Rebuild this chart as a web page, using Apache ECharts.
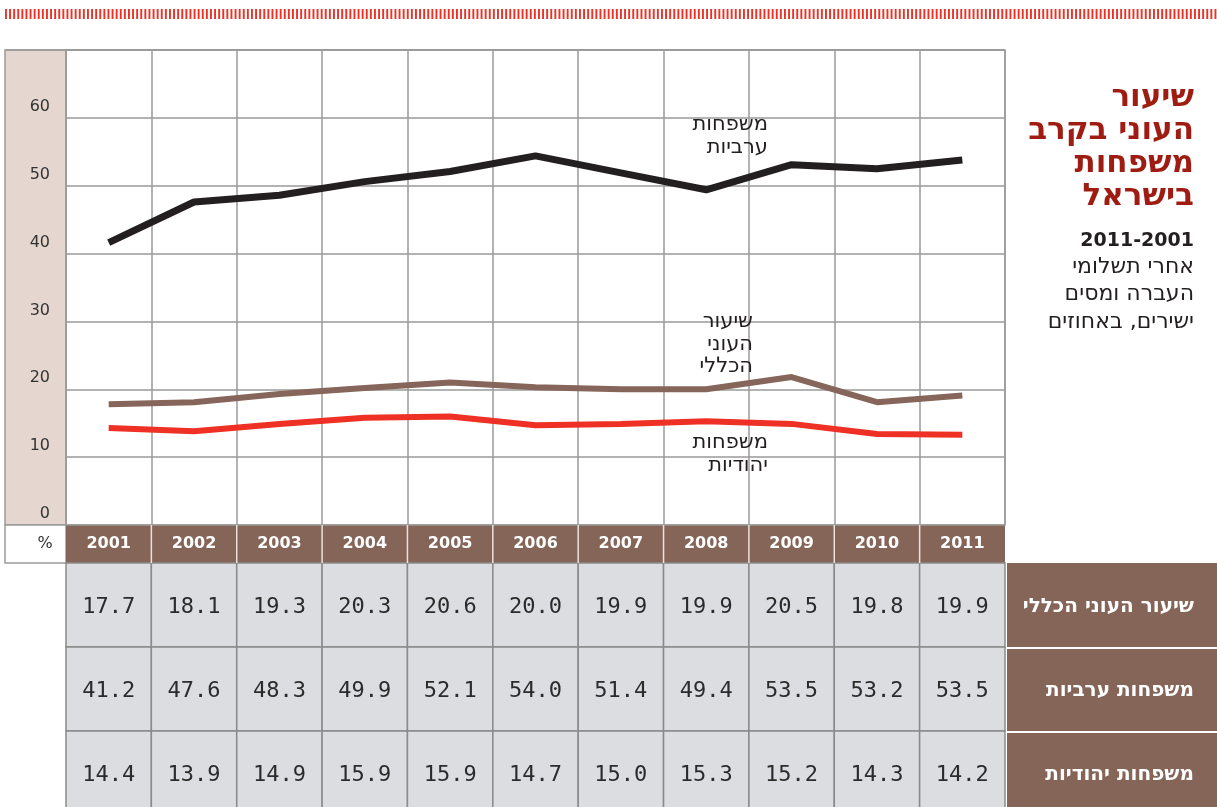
<!DOCTYPE html>
<html>
<head>
<meta charset="utf-8" />
<title>שיעור העוני בקרב משפחות בישראל</title>
<style>
  html, body { margin: 0; padding: 0; background: #fff; }
  #chart { width: 1217px; height: 807px; }
</style>
</head>
<body>
<div id="chart"></div>
<script src="https://cdn.jsdelivr.net/npm/echarts@6/dist/echarts.min.js"></script>
<script>
// years
var years = ['2001', '2002', '2003', '2004', '2005', '2006', '2007', '2008', '2009', '2010', '2011'];

// values as plotted
var lineGeneral = [17.8, 18.1, 19.3, 20.2, 21.0, 20.3, 20.0, 20.0, 21.8, 18.1, 19.1];
var lineArab    = [41.6, 47.6, 48.6, 50.6, 52.1, 54.4, 51.9, 49.4, 53.1, 52.5, 53.8];
var lineJewish  = [14.3, 13.8, 14.9, 15.8, 16.0, 14.7, 14.9, 15.3, 14.9, 13.4, 13.3];

// values printed in the table
var tblGeneral = ['17.7', '18.1', '19.3', '20.3', '20.6', '20.0', '19.9', '19.9', '20.5', '19.8', '19.9'];
var tblArab    = ['41.2', '47.6', '48.3', '49.9', '52.1', '54.0', '51.4', '49.4', '53.5', '53.2', '53.5'];
var tblJewish  = ['14.4', '13.9', '14.9', '15.9', '15.9', '14.7', '15.0', '15.3', '15.2', '14.3', '14.2'];
var rowNames   = ['שיעור העוני הכללי', 'משפחות ערביות', 'משפחות יהודיות'];

var titleLines = ['שיעור', 'העוני בקרב', 'משפחות', 'בישראל'];
var subLines = ['אחרי תשלומי', 'העברה ומסים', 'ישירים, באחוזים'];

var chart = echarts.init(document.getElementById('chart'), null, { renderer: 'canvas' });

var gx = 66, gy = 50, gw = 939, gh = 475;
var colW = gw / years.length;
var gridCol = '#9a9a9a';
var brown = '#866559';
var txtFont = 'DejaVu Sans';

var g = [];
// dotted red strip at top
g.push({ type: 'line', shape: { x1: 5, y1: 14, x2: 1217, y2: 14 },
  style: { stroke: '#ee3124', lineWidth: 10, lineDash: [1.9, 2.2] }, z: 1 });
// pink y label column
g.push({ type: 'rect', shape: { x: 5, y: gy, width: gx - 5, height: gh },
  style: { fill: '#e5d7cf', stroke: gridCol, lineWidth: 1.5 }, z: 0 });
// top border
g.push({ type: 'line', shape: { x1: 5, y1: gy, x2: gx + gw, y2: gy },
  style: { stroke: gridCol, lineWidth: 1.5 }, z: 5 });
// % cell
g.push({ type: 'rect', shape: { x: 5, y: gy + gh, width: gx - 5, height: 38 },
  style: { fill: '#fff', stroke: gridCol, lineWidth: 1.5 }, z: 0 });
g.push({ type: 'text', x: 45, y: gy + gh + 19,
  style: { text: '%', fill: '#333', font: '16px ' + txtFont, align: 'center', verticalAlign: 'middle' }, z: 5 });
// year band
g.push({ type: 'rect', shape: { x: gx, y: gy + gh, width: gw, height: 38 },
  style: { fill: brown }, z: 0 });
for (var i = 1; i < years.length; i++) {
  g.push({ type: 'line', shape: { x1: gx + i * colW, y1: gy + gh, x2: gx + i * colW, y2: gy + gh + 38 },
    style: { stroke: '#e9e1dd', lineWidth: 1.5 }, z: 1 });
}

// table
var rows = [tblGeneral, tblArab, tblJewish];
var rowTop = [563, 647, 731], rowH = [84, 84, 80];
for (var r = 0; r < rows.length; r++) {
  for (var c = 0; c < years.length; c++) {
    g.push({ type: 'rect', shape: { x: gx + c * colW, y: rowTop[r], width: colW, height: rowH[r] },
      style: { fill: '#dcdde0', stroke: '#8a8a8a', lineWidth: 1.5 }, z: 0 });
    g.push({ type: 'text', x: gx + c * colW + colW / 2, y: rowTop[r] + 44,
      style: { text: rows[r][c], fill: '#2b2b2b', font: '22px DejaVu Sans Mono', align: 'center', verticalAlign: 'middle' }, z: 2 });
  }
  g.push({ type: 'rect', shape: { x: gx + gw + 2, y: rowTop[r] + (r ? 2 : 0), width: 1217 - gx - gw - 2, height: rowH[r] - (r ? 2 : 0) },
    style: { fill: brown }, z: 0 });
  g.push({ type: 'text', x: 1194, y: rowTop[r] + 44,
    style: { text: rowNames[r], fill: '#fff', font: 'bold 20px ' + txtFont, align: 'right', verticalAlign: 'middle' }, z: 2 });
}

// title block
for (var t = 0; t < titleLines.length; t++) {
  g.push({ type: 'text', x: 1194, y: 98 + t * 33,
    style: { text: titleLines[t], fill: '#9e1c12', font: 'bold 31px ' + txtFont, align: 'right', verticalAlign: 'middle' } });
}
g.push({ type: 'text', x: 1194, y: 241,
  style: { text: '2011-2001', fill: '#231f20', font: 'bold 19px ' + txtFont, align: 'right', verticalAlign: 'middle' } });
for (var s = 0; s < subLines.length; s++) {
  g.push({ type: 'text', x: 1194, y: 267 + s * 27.5,
    style: { text: subLines[s], fill: '#231f20', font: '22px ' + txtFont, align: 'right', verticalAlign: 'middle' } });
}

// line annotations
function note(lines, x, y0) {
  for (var k = 0; k < lines.length; k++) {
    g.push({ type: 'text', x: x, y: y0 + k * 22.5, z: 10,
      style: { text: lines[k], fill: '#231f20', font: '21px ' + txtFont, align: 'right', verticalAlign: 'middle' } });
  }
}
note(['משפחות', 'ערביות'], 768, 125);
note(['שיעור', 'העוני', 'הכללי'], 753, 322);
note(['משפחות', 'יהודיות'], 768, 443);

var option = {
  backgroundColor: '#fff',
  animation: false,
  grid: { left: gx, top: gy, width: gw, height: gh, show: true, borderColor: gridCol, borderWidth: 1.5 },
  xAxis: {
    type: 'category',
    data: years,
    boundaryGap: true,
    axisLine: { show: false },
    axisTick: { show: false },
    splitLine: { show: true, interval: 0, lineStyle: { color: gridCol, width: 1.5 } },
    axisLabel: { interval: 0, margin: 11, color: '#fff', fontWeight: 'bold', fontSize: 16, fontFamily: txtFont }
  },
  yAxis: {
    type: 'value',
    min: 0, max: 70, interval: 10,
    axisLine: { show: false },
    axisTick: { show: false },
    splitLine: { lineStyle: { color: gridCol, width: 1.5 } },
    axisLabel: {
      showMaxLabel: false, margin: 16, color: '#333', fontSize: 16, fontFamily: txtFont,
      verticalAlign: 'bottom', padding: [0, 0, 3, 0]
    }
  },
  series: [
    { name: 'משפחות ערביות', type: 'line', data: lineArab, symbol: 'none',
      lineStyle: { color: '#231f20', width: 7 }, z: 3 },
    { name: 'שיעור העוני הכללי', type: 'line', data: lineGeneral, symbol: 'none',
      lineStyle: { color: '#86665a', width: 6 }, z: 3 },
    { name: 'משפחות יהודיות', type: 'line', data: lineJewish, symbol: 'none',
      lineStyle: { color: '#ee3124', width: 6 }, z: 3 }
  ],
  graphic: g
};
chart.setOption(option);
</script>
</body>
</html>
